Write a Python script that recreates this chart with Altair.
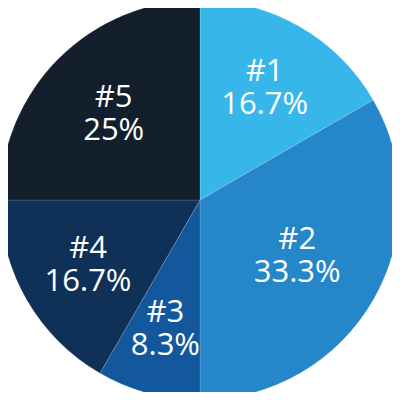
import altair as alt
import pandas as pd

labels = ["#1", "#2", "#3", "#4", "#5"]
values = [2, 4, 1, 2, 3]
pct_text = ["16.7%", "33.3%", "8.3%", "16.7%", "25%"]
colors = ["#37b7e9", "#2586c9", "#13589d", "#0f3157", "#131f2d"]

df = pd.DataFrame({
    "label": labels,
    "value": values,
    "pct": pct_text,
    "order": list(range(len(labels))),
})

R = 200
CX = 192
CY = 192

base = alt.Chart(df)

arcs = base.mark_arc(
    outerRadius=R, stroke="#ffffff", strokeWidth=0.6, strokeOpacity=0.25
).encode(
    theta=alt.Theta("value:Q", stack=True),
    order=alt.Order("order:Q"),
    color=alt.Color("label:N", scale=alt.Scale(domain=labels, range=colors), legend=None),
    x=alt.value(CX),
    y=alt.value(CY),
)

texts = base.transform_joinaggregate(
    total="sum(value)"
).transform_window(
    cum="sum(value)", sort=[alt.SortField("order")], frame=[None, 0]
).transform_calculate(
    half="PI * datum.value / datum.total",
    mid="2 * PI * (datum.cum - datum.value / 2) / datum.total",
).transform_calculate(
    r=f"2 * {R} * sin(datum.half) / (3 * datum.half) + 2",
).transform_calculate(
    lx=f"{CX} + datum.r * sin(datum.mid)",
    ly=f"{CY} - datum.r * cos(datum.mid)",
    txt="[datum.label, datum.pct]",
).mark_text(
    font="Open Sans", fontSize=31, color="white", align="center", baseline="middle",
    lineHeight=33, dy=-16,
).encode(
    x=alt.X("lx:Q", scale=None),
    y=alt.Y("ly:Q", scale=None),
    text=alt.Text("txt:N"),
)

chart = alt.layer(arcs, texts).properties(
    width=384, height=384, padding=0, autosize=alt.AutoSizeParams(type="none")
).configure_view(stroke=None)

chart.save("out.html", embed_options={"renderer": "svg", "actions": False})
